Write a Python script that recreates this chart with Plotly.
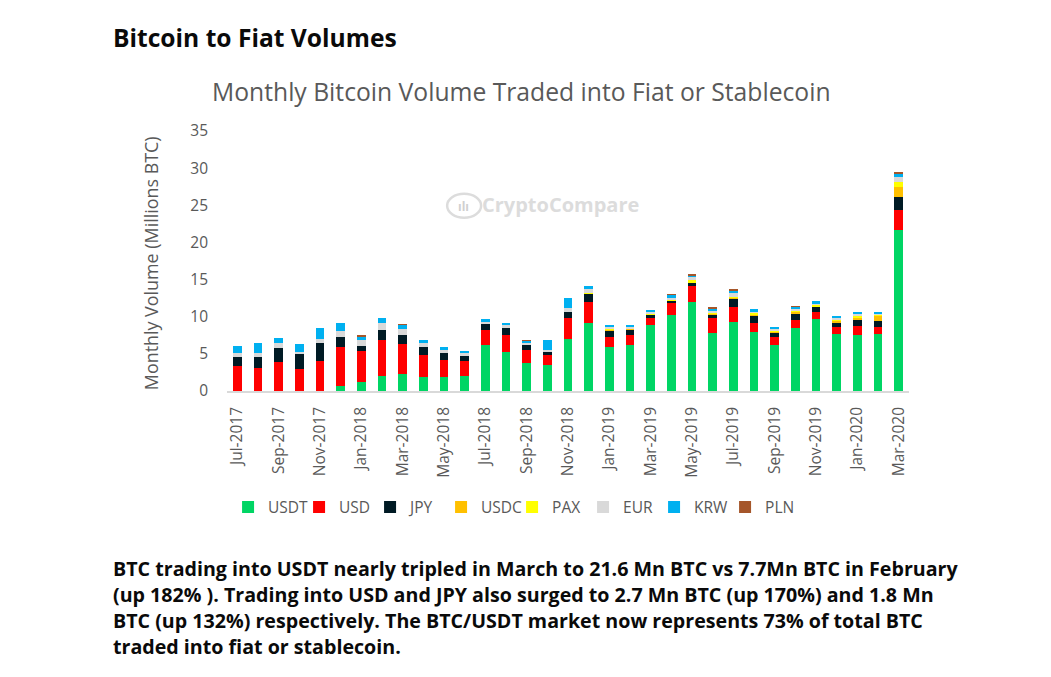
import plotly.graph_objects as go

months = ["Jul-2017","Aug-2017","Sep-2017","Oct-2017","Nov-2017","Dec-2017","Jan-2018","Feb-2018","Mar-2018","Apr-2018","May-2018","Jun-2018",
          "Jul-2018","Aug-2018","Sep-2018","Oct-2018","Nov-2018","Dec-2018","Jan-2019","Feb-2019","Mar-2019","Apr-2019","May-2019","Jun-2019",
          "Jul-2019","Aug-2019","Sep-2019","Oct-2019","Nov-2019","Dec-2019","Jan-2020","Feb-2020","Mar-2020"]
USDT = [0,0,0,0,0,.67,1.2,2.0,2.24,1.88,1.88,2.0,6.14,5.2,3.76,3.5,6.94,9.1,5.9,6.18,8.87,10.2,12.0,7.8,9.23,7.9,6.18,8.47,9.68,7.7,7.53,7.66,21.7]
USD = [3.3,3.1,3.94,2.96,4.03,5.2,4.13,4.85,4.12,2.96,2.32,2.03,2.06,2.28,1.74,1.34,2.86,2.86,1.4,1.3,.93,1.63,2.1,2.06,2.1,1.3,1.08,1.13,.89,.86,1.21,.99,2.6]
JPY = [1.27,1.47,1.88,2.04,2.47,1.39,.77,1.35,1.24,1.06,.89,.72,.8,1.02,.7,.46,.86,1.14,.9,.85,.46,.31,.46,.44,1.17,1.0,.58,.88,.76,.67,.86,.75,1.8]
USDC = [0,0,0,0,0,0,0,0,0,0,0,0,0,0,0,0,0,.03,.03,.03,.06,.05,.1,.07,.1,.1,.15,.2,.1,.25,.35,.8,1.3]
PAX = [0,0,0,0,0,0,0,0,0,0,0,0,0,0,0,0,0,.1,.05,.06,.12,.11,.24,.13,.12,.2,.16,.2,.22,.2,.22,.05,.7]
EUR = [.53,.53,.58,.3,.53,.8,.7,.9,.7,.5,.4,.31,.27,.33,.25,.2,.54,.52,.3,.2,.16,.27,.4,.4,.45,.2,.2,.25,.1,.1,.2,.15,.65]
KRW = [1.0,1.3,.8,1.06,1.47,1.08,.6,.76,.7,.5,.4,.34,.36,.37,.35,1.4,1.3,.41,.32,.25,.3,.43,.3,.25,.33,.3,.3,.2,.3,.3,.29,.3,.55]
PLN = [0,0,0,0,0,0,.02,0,.01,0,0,0,0,0,.03,0,0,0,0,0,0,.03,.1,.15,.1,0,0,.07,0,0,0,0,.2]

series = [("USDT",USDT,"#00d564"),("USD",USD,"#ff0000"),("JPY",JPY,"#001a24"),("USDC",USDC,"#ffc000"),
          ("PAX",PAX,"#ffff00"),("EUR",EUR,"#d9d9d9"),("KRW",KRW,"#00b0f0"),("PLN",PLN,"#a5562a")]

heading = "Bitcoin to Fiat Volumes"
chart_title = "Monthly Bitcoin Volume Traded into Fiat or Stablecoin"
y_title = "Monthly Volume (Millions BTC)"
watermark = "CryptoCompare"
paragraph = ["BTC trading into USDT nearly tripled in March to 21.6 Mn BTC vs 7.7Mn BTC in February",
             "(up 182% ). Trading into USD and JPY also surged to 2.7 Mn BTC (up 170%) and 1.8 Mn",
             "BTC (up 132%) respectively. The BTC/USDT market now represents 73% of total BTC",
             "traded into fiat or stablecoin."]

W, H = 1051, 677
L, R, T, B = 226.6, 909.4, 131.1, 391.5
px = lambda x: (x - L) / (R - L)
py = lambda y: (B - y) / (B - T)
FONT = "Open Sans"
GREY = "#595959"

fig = go.Figure()
for name, vals, col in series:
    fig.add_bar(x=months, y=vals, name=name, marker=dict(color=col, line=dict(width=0)))

anns = [dict(text=heading, x=px(110), y=py(37), font=dict(size=24.6, color="#0a0a0a", family=FONT, weight=700), xanchor="left"),
        dict(text=chart_title, x=px(521), y=py(92), font=dict(size=24.7, color=GREY, family=FONT), xanchor="center"),
        dict(text=y_title, x=px(150), y=py(263), textangle=-90, font=dict(size=17.9, color=GREY, family=FONT), xanchor="center"),
        dict(text=watermark, x=px(560), y=py(205), font=dict(size=20, color="#dcdcdc", family=FONT, weight=700), xanchor="center"),
        dict(text="ılı", x=px(463), y=py(207), font=dict(size=12, color="#d0d0d0", family=FONT, weight=700), xanchor="center")]
for i, line in enumerate(paragraph):
    anns.append(dict(text=line, x=px(110), y=py(569 + 26 * i), font=dict(size=19.65, color="#0a0a0a", family=FONT, weight=700), xanchor="left"))
for a in anns:
    a.update(xref="paper", yref="paper", yanchor="middle", showarrow=False)

fig.update_layout(
    width=W, height=H, barmode="stack", bargap=0.59,
    paper_bgcolor="white", plot_bgcolor="white", showlegend=True,
    margin=dict(l=L, r=W - R, t=T, b=H - B, pad=0),
    font=dict(family=FONT, color=GREY),
    annotations=anns,
    shapes=[dict(type="circle", xref="paper", yref="paper", x0=px(447), x1=px(481), y0=py(218), y1=py(194),
                 line=dict(color="#dcdcdc", width=2.5), layer="below")],
    legend=dict(orientation="h", x=px(512), xanchor="center", y=py(508), yanchor="middle",
                font=dict(size=15.5, color=GREY, family=FONT), traceorder="normal",
                entrywidth=26, entrywidthmode="pixels", itemwidth=30),
    xaxis=dict(type="category", categoryorder="array", categoryarray=months, tickmode="array", tickvals=months[::2],
               ticktext=months[::2], tickangle=-90, tickfont=dict(size=15.5, color=GREY), showgrid=False,
               showline=True, linecolor="#d9d9d9", linewidth=1.5, ticks="", ticklabelstandoff=8),
    yaxis=dict(range=[0, 35], dtick=5, tickfont=dict(size=15.5, color=GREY), showgrid=False, zeroline=False,
               showline=False, ticks="", ticklabelstandoff=18),
)
fig.write_html("out.html", config=dict(displayModeBar=False),
               post_script="document.body.style.margin='0';document.documentElement.style.overflow='hidden';")
